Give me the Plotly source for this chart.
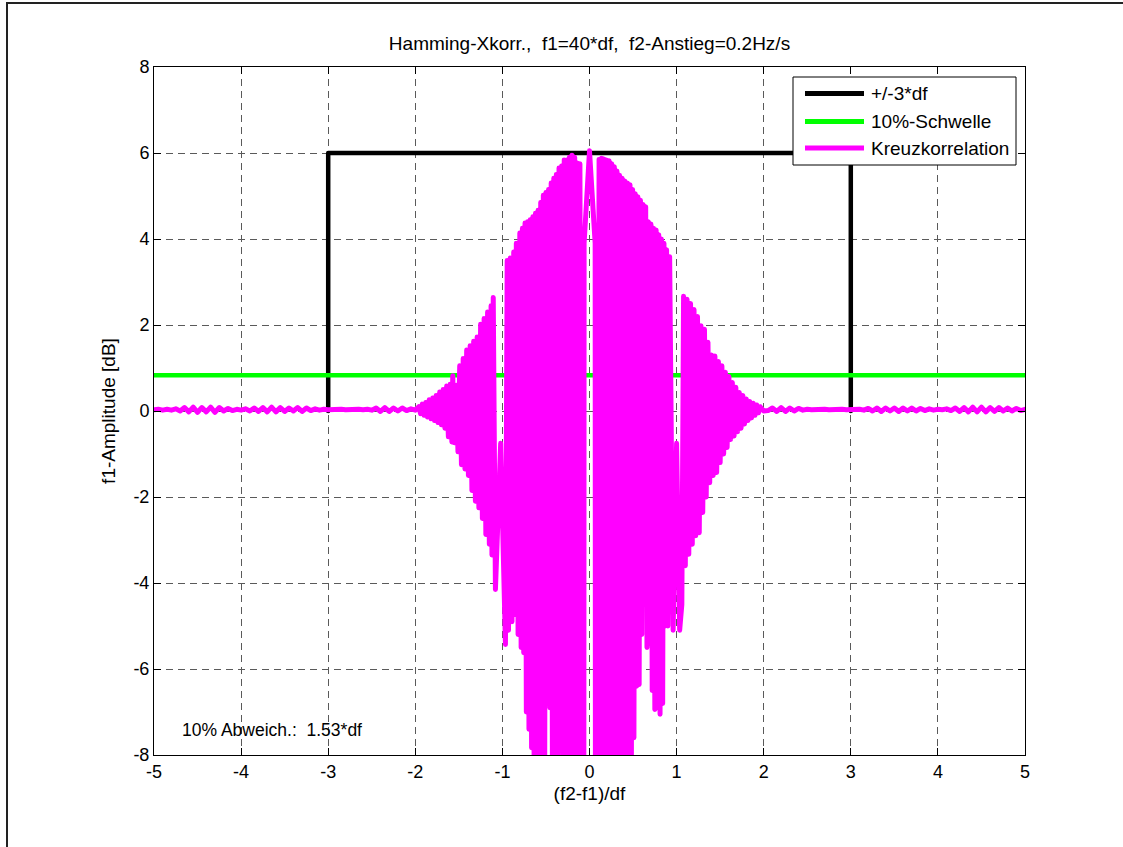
import plotly.graph_objects as go

# ---- data -------------------------------------------------------------
# +/-3*df limit box
box_x = [-3, -3, 3, 3]
box_y = [0, 6, 6, 0]

# 10 % threshold level (dB)
threshold_db = 0.83

# cross-correlation trace, split into stretches (x in df, y in dB)
tail_left_x = [-5.00, -4.95, -4.90, -4.85, -4.80, -4.75, -4.70, -4.65, -4.60, -4.55, -4.50,
               -4.45, -4.40, -4.35, -4.30, -4.25, -4.20, -4.15, -4.10, -4.05, -4.00, -3.95,
               -3.90, -3.85, -3.80, -3.75, -3.70, -3.65, -3.60, -3.55, -3.50, -3.45, -3.40,
               -3.35, -3.30, -3.25, -3.20, -3.15, -3.10, -3.05, -3.00, -2.95, -2.90, -2.85,
               -2.80, -2.75, -2.70, -2.65, -2.60, -2.55, -2.50, -2.45, -2.40, -2.35, -2.30,
               -2.25, -2.20, -2.15, -2.10, -2.05, -2.00]
tail_left_y = [0.03, 0.04, 0.02, 0.04, 0.02, 0.05, 0.00, 0.08, -0.02, 0.09, -0.03,
               0.08, -0.02, 0.09, -0.03, 0.08, 0.00, 0.06, 0.01, 0.04, 0.02, 0.05,
               0.00, 0.07, -0.01, 0.08, -0.02, 0.09, -0.02, 0.08, -0.01, 0.07, 0.00,
               0.08, -0.01, 0.07, 0.01, 0.05, 0.02, 0.04, 0.03, 0.04, 0.03, 0.04,
               0.03, 0.04, 0.03, 0.04, 0.03, 0.04, 0.02, 0.07, -0.01, 0.08, -0.01,
               0.07, 0.00, 0.07, 0.01, 0.05, 0.02]

lobe_left_x = [-1.96, -1.94, -1.92, -1.90, -1.88, -1.86, -1.84, -1.82, -1.80, -1.78, -1.76,
               -1.74, -1.72, -1.70, -1.68, -1.66, -1.64, -1.62, -1.60, -1.58, -1.57, -1.55,
               -1.53, -1.51, -1.49, -1.47, -1.45, -1.43, -1.41, -1.39, -1.37, -1.35, -1.33,
               -1.31, -1.29, -1.27, -1.25, -1.23, -1.21, -1.19, -1.17, -1.15, -1.13, -1.12,
               -1.105, -1.08, -1.02, -0.965]
lobe_left_y = [0.10, -0.06, 0.16, -0.10, 0.20, -0.14, 0.26, -0.18, 0.30, -0.22, 0.36,
               -0.27, 0.44, -0.32, 0.50, -0.40, 0.58, -0.60, 0.62, -0.72, 0.82, -0.74,
               0.60, -0.95, 1.05, -1.25, 1.22, -1.35, 1.42, -1.50, 1.52, -1.85, 1.62,
               -2.10, 1.72, -2.25, 2.02, -2.50, 2.15, -2.87, 2.30, -3.10, 2.45, -3.35,
               2.64, -4.15, -0.75, -5.43]

lobe_main_x = [-0.945, -0.93, -0.91, -0.89, -0.87, -0.86, -0.84, -0.82, -0.80, -0.785, -0.77,
               -0.755, -0.74, -0.725, -0.71, -0.695, -0.68, -0.665, -0.65, -0.635, -0.62,
               -0.605, -0.59, -0.575, -0.56, -0.545, -0.53, -0.515, -0.50, -0.485, -0.47,
               -0.455, -0.44, -0.425, -0.41, -0.395, -0.38, -0.365, -0.35, -0.335, -0.32,
               -0.305, -0.29, -0.275, -0.26, -0.245, -0.23, -0.215, -0.20, -0.185, -0.17,
               -0.155, -0.14, -0.125, -0.11, -0.095, -0.065, -0.062, 0.0, 0.065, 0.068,
               0.095, 0.11, 0.125, 0.14,
               0.15, 0.165, 0.18, 0.195, 0.21, 0.225, 0.24, 0.255, 0.27, 0.285, 0.30, 0.315,
               0.33, 0.345, 0.36, 0.375, 0.39, 0.405, 0.42, 0.435, 0.45, 0.465, 0.48, 0.495,
               0.51, 0.525, 0.54, 0.555, 0.57, 0.585, 0.60, 0.615, 0.63, 0.645, 0.66, 0.675,
               0.69, 0.705, 0.72, 0.735, 0.75, 0.765, 0.78, 0.795, 0.81, 0.825, 0.84, 0.855,
               0.87, 0.885, 0.90, 0.92, 0.96, 1.00]
lobe_main_y = [3.50, -5.10, 3.56, -4.90, 3.70, -4.73, 3.90, -5.20, 4.14, -5.50, 4.25,
               -5.62, 4.37, -7.00, 4.40, -7.40, 4.45, -7.83, 4.52, -9.0, 4.60,
               -9.0, 4.67, -9.0, 4.85, -9.0, 5.02, -9.0, 5.08, -6.8, 5.15,
               -6.9, 5.30, -9.0, 5.41, -9.0, 5.50, -9.0, 5.65, -7.2, 5.70,
               -9.0, 5.84, -9.0, 5.84, -9.0, 5.90, -9.0, 5.95, -9.0, 5.90,
               -9.0, 5.77, -9.0, 5.75, -9.0, -9.0, 3.9, 6.05, 3.9, -9.0,
               -9.0, 5.85, -9.0, 5.88,
               -9.0, 5.86, -9.0, 5.84, -9.0, 5.82, -9.0, 5.75, -9.0, 5.68, -9.0, 5.58,
               -9.0, 5.48, -9.0, 5.41, -9.0, 5.35, -9.0, 5.30, -9.0, 5.26, -9.0, 5.15,
               -7.6, 5.05, -6.4, 4.98, -6.36, 4.90, -5.2, 4.80, -4.1, 4.75, -5.5, 4.40,
               -5.4, 4.35, -6.5, 4.25, -6.94, 4.21, -6.9, 4.10, -7.05, 4.00, -6.8, 3.90,
               -5.0, 3.75, -5.0, 3.59, -5.1, -0.75, -5.1]

lobe_right_x = [1.035, 1.06, 1.08, 1.10, 1.12, 1.14, 1.16, 1.18, 1.20, 1.22, 1.24, 1.26,
                1.28, 1.30, 1.32, 1.34, 1.36, 1.38, 1.40, 1.42, 1.44, 1.46, 1.48, 1.50,
                1.52, 1.54, 1.56, 1.58, 1.60, 1.62, 1.64, 1.66, 1.68, 1.70, 1.72, 1.74,
                1.76, 1.78, 1.80, 1.82, 1.84, 1.86, 1.88, 1.90, 1.92, 1.94, 1.96]
lobe_right_y = [-4.5, 2.67, -3.6, 2.60, -3.33, 2.50, -3.1, 2.36, -2.9, 2.20, -2.83, 1.98,
                -2.36, 1.90, -2.0, 1.60, -1.67, 1.30, -1.5, 1.28, -1.43, 1.15, -1.2, 1.05,
                -1.0, 0.90, -0.85, 0.80, -0.66, 0.66, -0.58, 0.55, -0.48, 0.43, -0.40, 0.36,
                -0.30, 0.28, -0.22, 0.22, -0.16, 0.18, -0.10, 0.14, -0.04, 0.10, 0.0]

tail_right_x = [2.00, 2.05, 2.10, 2.15, 2.20, 2.25, 2.30, 2.35, 2.40, 2.45, 2.50, 2.55,
                2.60, 2.65, 2.70, 2.75, 2.80, 2.85, 2.90, 2.95, 3.00, 3.05, 3.10, 3.15,
                3.20, 3.25, 3.30, 3.35, 3.40, 3.45, 3.50, 3.55, 3.60, 3.65, 3.70, 3.75,
                3.80, 3.85, 3.90, 3.95, 4.00, 4.05, 4.10, 4.15, 4.20, 4.25, 4.30, 4.35,
                4.40, 4.45, 4.50, 4.55, 4.60, 4.65, 4.70, 4.75, 4.80, 4.85, 4.90, 4.95, 5.00]
tail_right_y = [0.01, 0.07, -0.01, 0.08, -0.01, 0.07, 0.00, 0.06, 0.02, 0.04, 0.03, 0.04,
                0.03, 0.04, 0.03, 0.04, 0.03, 0.04, 0.03, 0.04, 0.03, 0.04, 0.02, 0.06,
                0.00, 0.07, -0.01, 0.07, 0.00, 0.07, -0.01, 0.07, 0.00, 0.07, 0.00, 0.06,
                0.01, 0.05, 0.02, 0.04, 0.03, 0.05, 0.01, 0.07, -0.01, 0.08, -0.02, 0.09,
                -0.02, 0.09, -0.02, 0.08, -0.01, 0.08, 0.00, 0.07, 0.00, 0.06, 0.01, 0.04, 0.03]

xcorr_x = tail_left_x + lobe_left_x + lobe_main_x + lobe_right_x + tail_right_x
xcorr_y = tail_left_y + lobe_left_y + lobe_main_y + lobe_right_y + tail_right_y

x_ticks = [-5, -4, -3, -2, -1, 0, 1, 2, 3, 4, 5]
y_ticks = [-8, -6, -4, -2, 0, 2, 4, 6, 8]

legend_labels = ["+/-3*df", "10%-Schwelle", "Kreuzkorrelation"]
legend_colors = ["#000000", "#00FF00", "#FF00FF"]

# ---- layout geometry (pixels of the 1123 x 847 page) -------------------
W, H = 1123, 847
L, R, T, B = 154, 98, 67, 92
PW, PH = W - L - R, H - T - B


def px(xp):
    return (xp - L) / PW


def py(yp):
    return 1 - (yp - T) / PH


FONT = "Liberation Sans, Arial, Helvetica, sans-serif"
FS = 19

fig = go.Figure()

fig.add_trace(go.Scatter(x=box_x, y=box_y, mode="lines",
                         line=dict(color=legend_colors[0], width=4.5),
                         name=legend_labels[0], showlegend=False))
fig.add_trace(go.Scatter(x=[-5, 5], y=[threshold_db, threshold_db], mode="lines",
                         line=dict(color=legend_colors[1], width=4.5),
                         name=legend_labels[1], showlegend=False))
fig.add_trace(go.Scatter(x=xcorr_x, y=xcorr_y, mode="lines",
                         line=dict(color=legend_colors[2], width=5),
                         name=legend_labels[2], showlegend=False))

shapes = []
annotations = []

# outer figure frame (left and top edges)
shapes.append(dict(type="line", xref="paper", yref="paper",
                   x0=px(7), x1=px(7), y0=py(3), y1=py(900),
                   line=dict(color="#222222", width=2)))
shapes.append(dict(type="line", xref="paper", yref="paper",
                   x0=px(6), x1=px(1130), y0=py(3), y1=py(3),
                   line=dict(color="#222222", width=2)))

# legend box
shapes.append(dict(type="rect", xref="paper", yref="paper",
                   x0=px(793), x1=px(1016), y0=py(165), y1=py(77),
                   line=dict(color="black", width=1), fillcolor="white", layer="above"))
rows = [93.5, 121.5, 148]
for lab, col, yr in zip(legend_labels, legend_colors, rows):
    shapes.append(dict(type="line", xref="paper", yref="paper",
                       x0=px(805), x1=px(864), y0=py(yr), y1=py(yr),
                       line=dict(color=col, width=5), layer="above"))
    annotations.append(dict(text=lab, xref="paper", yref="paper",
                            x=px(869), y=py(yr), xanchor="left", yanchor="middle",
                            showarrow=False, font=dict(family=FONT, size=FS, color="black")))

annotations.append(dict(text="10% Abweich.:  1.53*df", xref="x", yref="y",
                        x=-4.70, y=-7.42, xanchor="left", yanchor="middle",
                        showarrow=False, font=dict(family=FONT, size=17.5, color="black")))

axis_common = dict(showline=True, linecolor="black", linewidth=1, mirror="ticks",
                   ticks="inside", ticklen=7, tickcolor="black", tickwidth=1,
                   showgrid=True, gridcolor="#5a5a5a", gridwidth=1, griddash="7px,5px",
                   zeroline=False, tickfont=dict(family=FONT, size=18, color="black"))

fig.update_layout(
    width=W, height=H,
    margin=dict(l=L, r=R, t=T, b=B, autoexpand=False),
    paper_bgcolor="white", plot_bgcolor="white",
    showlegend=False,
    title=dict(text="Hamming-Xkorr.,  f1=40*df,  f2-Anstieg=0.2Hz/s",
               x=0.5, xref="paper", y=1 - 43 / H, yref="container",
               xanchor="center", yanchor="middle",
               font=dict(family=FONT, size=FS, color="black")),
    xaxis=dict(range=[-5, 5], tickvals=x_ticks, ticktext=[str(v) for v in x_ticks],
               title=dict(text="(f2-f1)/df", standoff=6,
                          font=dict(family=FONT, size=FS, color="black")),
               **axis_common),
    yaxis=dict(range=[-8, 8], tickvals=y_ticks, ticktext=[str(v) for v in y_ticks],
               title=dict(text="f1-Amplitude [dB]", standoff=12,
                          font=dict(family=FONT, size=FS, color="black")),
               **axis_common),
    shapes=shapes,
    annotations=annotations,
)

# rounded joins and caps on the data lines
round_joins = (
    "document.querySelectorAll('.scatterlayer path.js-line').forEach(function(p){"
    "p.style.strokeLinejoin='round';p.style.strokeLinecap='round';});"
)

fig.write_html("out.html", post_script=round_joins)
